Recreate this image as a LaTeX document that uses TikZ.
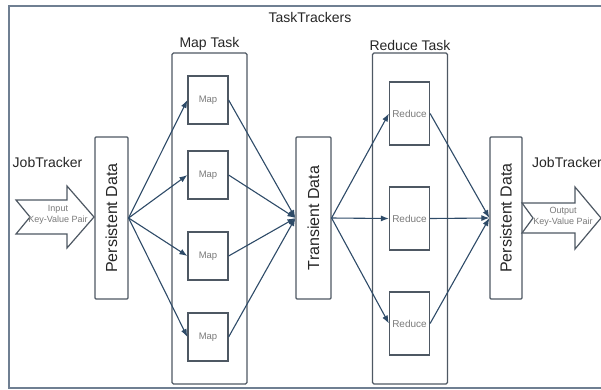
\documentclass[tikz,border=0pt]{standalone}
\usepackage{fontspec}
\setmainfont{Liberation Sans}
\usetikzlibrary{
    arrows.meta,
    positioning,
}
\definecolor{framecol}{HTML}{6F7F92}
\definecolor{boxcol}{HTML}{4E5863}
\definecolor{flowcol}{HTML}{2E4B68}
\definecolor{smalltext}{HTML}{7A7A7A}

\begin{document}
\begin{tikzpicture}[
    x=1pt, y=-1pt,
    frame/.style={draw=framecol, line width=1.5pt},
    title/.style={font=\fontsize{14}{16}\selectfont, text=black!85, inner sep=2pt},
    taskbox/.style={draw=boxcol, line width=1.2pt, rounded corners=1.5pt,
                    minimum width=75pt, minimum height=331pt},
    databox/.style={draw=boxcol, line width=1.2pt, rounded corners=1pt,
                    minimum width=33pt, minimum height=162pt, inner sep=0pt,
                    font=\fontsize{16}{18}\selectfont, text=black!85},
    mapbox/.style={draw=boxcol, line width=1.2pt, minimum width=40pt, minimum height=48pt,
                   inner sep=0pt, font=\fontsize{9.5}{11}\selectfont, text=smalltext},
    redbox/.style={mapbox, minimum height=63pt, font=\fontsize{10}{11}\selectfont},
    bigarrow/.style={draw=boxcol, line width=1.2pt, fill=white, line join=miter},
    pairtext/.style={align=center, font=\fontsize{9}{11.5}\selectfont, text=smalltext, inner sep=0pt},
    flow/.style={draw=flowcol, line width=1.1pt, -{Latex[length=8pt,width=6pt]}}
]
\useasboundingbox (0,0) rectangle (601,389);

% outer frame
\draw[frame] (9,6) rectangle (612,388);
\node[title] (tasktrackers) at (310,17) {TaskTrackers};

% task groups
\node[taskbox, label={[title]above:Map Task}] (maptask) at (209.5,218.5) {};
\node[taskbox, label={[title]above:Reduce Task}] (reducetask) at (410,218.5) {};

% data stores
\node[databox] (persistIn) at (111.5,218) {\rotatebox{90}{Persistent Data}};
\node[databox, minimum width=35pt] (transient) at (313.5,218) {\rotatebox{90}{Transient Data}};
\node[databox, minimum width=32pt] (persistOut) at (506,218) {\rotatebox{90}{Persistent Data}};

% map and reduce workers
\node[mapbox] (map1) at (208,100) {Map};
\node[mapbox] (map2) at (208,175) {Map};
\node[mapbox] (map3) at (208,256) {Map};
\node[mapbox] (map4) at (208,337) {Map};

\node[redbox] (reduce1) at (409.5,113.5) {Reduce};
\node[redbox] (reduce2) at (409.5,218.5) {Reduce};
\node[redbox] (reduce3) at (409.5,323.5) {Reduce};

% job trackers
\node[title] (jobIn) at (47.5,162) {JobTracker};
\node[title, anchor=west] (jobOut) at (530,162) {JobTracker};

% key-value pair arrows
\draw[bigarrow] (16,200) -- (67,200) -- (67,186) -- (94,217) -- (67,248)
    -- (67,234) -- (16,234) -- (30,217) -- cycle;
\node[pairtext] (inpair) at (58,215) {Input\\Key-Value Pair};

\draw[bigarrow] (522,203) -- (575,203) -- (575,187) -- (601,218) -- (575,249)
    -- (575,233) -- (522,233) -- (533,218) -- cycle;
\node[pairtext] (outpair) at (563,217) {Output\\Key-Value Pair};

% data flow
\foreach \m in {map1,map2,map3,map4} {
    \draw[flow] (persistIn.east) -- (\m.west);
    \draw[flow] (\m.east) -- (transient.west);
}
\foreach \r in {reduce1,reduce2,reduce3} {
    \draw[flow] (transient.east) -- (\r.west);
    \draw[flow] (\r.east) -- (persistOut.west);
}

\end{tikzpicture}
\end{document}
